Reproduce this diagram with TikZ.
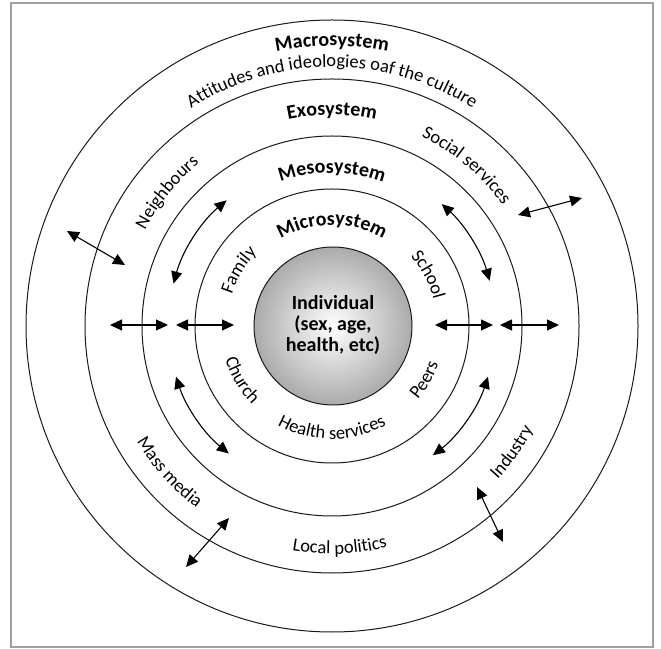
\documentclass[tikz,border=0pt]{standalone}
\usepackage{fontspec}
\setmainfont{Carlito}
\usetikzlibrary{arrows.meta,decorations.text}
\begin{document}
\begin{tikzpicture}[x=1pt,y=1pt,
  ring/.style={draw=black!90, line width=1pt, circle, inner sep=0pt, outer sep=0pt},
  link/.style={line width=1.1pt, {Triangle[length=12pt,width=11pt]}-{Triangle[length=12pt,width=11pt]}},
  lbl/.style={decorate, decoration={text along path, text align=center, text={#1}}},
]
\useasboundingbox (0,0) rectangle (661,648);
\draw[gray!75, line width=1.5pt] (11,1) rectangle (653,645);
\coordinate (C) at (332,322);
\node[ring, minimum size=612pt] (macro) at (C) {};
\node[ring, minimum size=494pt] (exo) at (C) {};
\node[ring, minimum size=380pt] (meso) at (C) {};
\node[ring, minimum size=274pt] (micro) at (C) {};
\node[ring, minimum size=158pt, inner color=white, outer color=gray!66] (ind) at (333,322) {};
\node[align=center, font=\bfseries\fontsize{20}{21}\selectfont] (indtext) at (333,323) {Individual\\(sex, age,\\health, etc)};

% straight arrows
\coordinate (a1) at (67,417); \coordinate (a2) at (125,383);
\coordinate (d1) at (518,433); \coordinate (d2) at (582,450);
\coordinate (g1) at (229,130); \coordinate (g2) at (186,81);
\coordinate (h1) at (477,161); \coordinate (h2) at (503,106);
\coordinate (l1) at (110,323); \coordinate (l2) at (168,323);
\coordinate (l3) at (176,323); \coordinate (l4) at (234,323);
\coordinate (r1) at (435,323); \coordinate (r2) at (493,323);
\coordinate (r3) at (500,323); \coordinate (r4) at (559,323);
\draw[link] (a1) -- (a2);
\draw[link] (d1) -- (d2);
\draw[link] (g1) -- (g2);
\draw[link] (h1) -- (h2);
\draw[link] (l1) -- (l2);
\draw[link] (l3) -- (l4);
\draw[link] (r1) -- (r2);
\draw[link] (r3) -- (r4);

% curved arrows
\coordinate (b1) at ([shift={(130:164)}]C);
\coordinate (c1) at ([shift={(48:164)}]C);
\coordinate (e1) at ([shift={(198:164)}]C);
\coordinate (f1) at ([shift={(342:164)}]C);
\draw[link] (b1) arc[start angle=130, end angle=165, radius=164];
\draw[link] (c1) arc[start angle=48, end angle=16, radius=164];
\draw[link] (e1) arc[start angle=198, end angle=231, radius=164];
\draw[link] (f1) arc[start angle=342, end angle=308, radius=164];

% labels
\path[lbl={|\bfseries\fontsize{20}{22}\selectfont|Macrosystem}] ([shift={(115:280)}]C) arc[start angle=115, end angle=65, radius=280];
\path[lbl={|\fontsize{18.5}{20}\selectfont|Attitudes and ideologies oaf the culture}] ([shift={(140:259)}]C) arc[start angle=140, end angle=40, radius=259];
\path[lbl={|\bfseries\fontsize{20}{22}\selectfont|Exosystem}] ([shift={(115:211)}]C) arc[start angle=115, end angle=65, radius=211];
\path[lbl={|\bfseries\fontsize{20}{22}\selectfont|Mesosystem}] ([shift={(125:153)}]C) arc[start angle=125, end angle=55, radius=153];
\path[lbl={|\bfseries\fontsize{20}{22}\selectfont|Microsystem}] ([shift={(140:101)}]C) arc[start angle=140, end angle=40, radius=101];
\path[lbl={|\fontsize{18.5}{20}\selectfont|Neighbours}] ([shift={(175:210)}]C) arc[start angle=175, end angle=107, radius=210];
\path[lbl={|\fontsize{18.5}{20}\selectfont|Social services}] ([shift={(85:209)}]C) arc[start angle=85, end angle=15, radius=209];
\path[lbl={|\fontsize{18.5}{20}\selectfont|Family}] ([shift={(185:105)}]C) arc[start angle=185, end angle=113, radius=105];
\path[lbl={|\fontsize{18.5}{20}\selectfont|School}] ([shift={(64:105)}]C) arc[start angle=64, end angle=-8, radius=105];
\path[lbl={|\fontsize{18.5}{20}\selectfont|Church}] ([shift={(175:112)}]C) arc[start angle=175, end angle=247, radius=112];
\path[lbl={|\fontsize{18.5}{20}\selectfont|Health services}] ([shift={(220:113)}]C) arc[start angle=220, end angle=320, radius=113];
\path[lbl={|\fontsize{18.5}{20}\selectfont|Peers}] ([shift={(295:113)}]C) arc[start angle=295, end angle=365, radius=113];
\path[lbl={|\fontsize{18.5}{20}\selectfont|Mass media}] ([shift={(190:227)}]C) arc[start angle=190, end angle=254, radius=227];
\path[lbl={|\fontsize{18.5}{20}\selectfont|Local politics}] ([shift={(245:228)}]C) arc[start angle=245, end angle=299, radius=228];
\path[lbl={|\fontsize{18.5}{20}\selectfont|Industry}] ([shift={(295:226)}]C) arc[start angle=295, end angle=355, radius=226];
\end{tikzpicture}
\end{document}
